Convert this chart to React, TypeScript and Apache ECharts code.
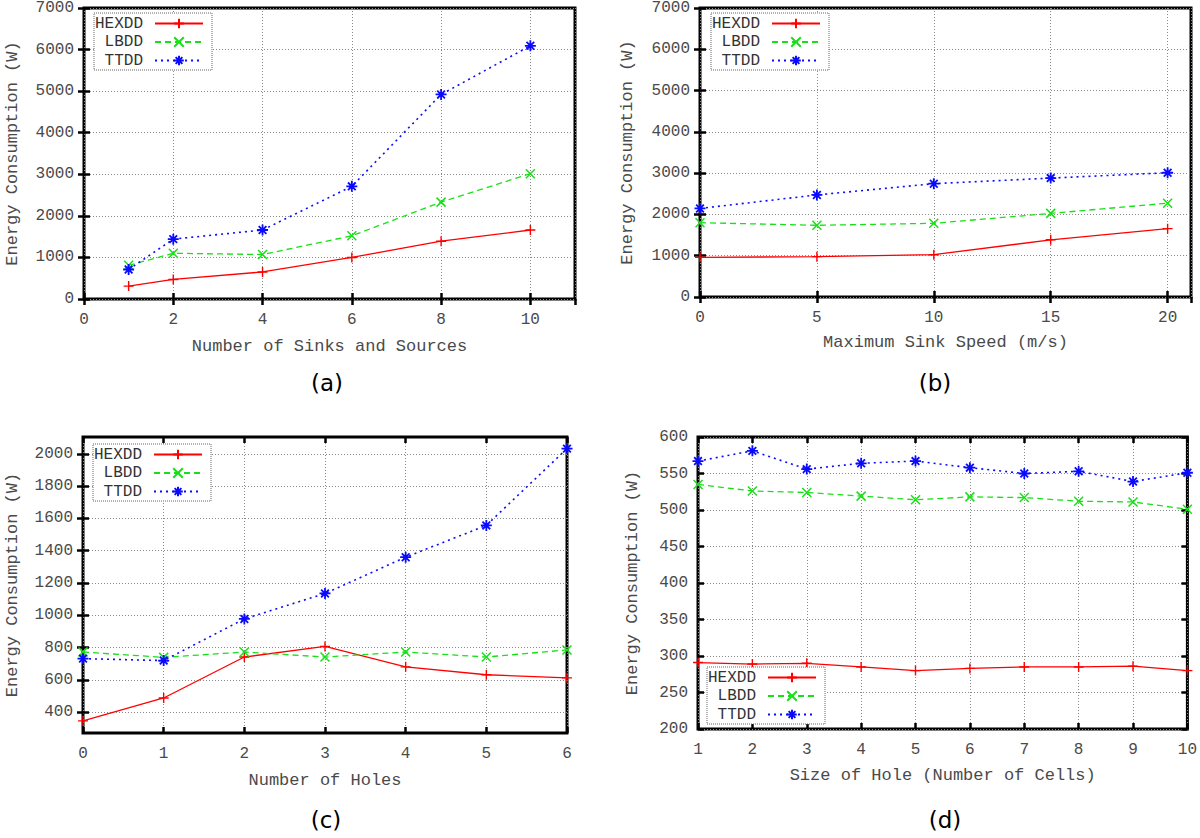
import React, { useEffect, useRef } from 'react';
import * as echarts from 'echarts';

// ---------- data ----------
const seriesNames = ['HEXDD', 'LBDD', 'TTDD'];

// (a) Number of Sinks and Sources
const xA = [1, 2, 4, 6, 8, 10];
const hexA = [310, 470, 650, 1000, 1390, 1660];
const lbA = [810, 1100, 1070, 1520, 2330, 3015];
const ttA = [710, 1440, 1660, 2710, 4920, 6090];

// (b) Maximum Sink Speed (m/s)
const xB = [0, 5, 10, 15, 20];
const hexB = [960, 977, 1025, 1385, 1656];
const lbB = [1800, 1737, 1785, 2025, 2273];
const ttB = [2145, 2472, 2745, 2880, 3010];

// (c) Number of Holes
const xC = [0, 1, 2, 3, 4, 5, 6];
const hexC = [345, 487, 741, 807, 680, 631, 612];
const lbC = [772, 739, 772, 741, 772, 741, 785];
const ttC = [731, 719, 977, 1135, 1360, 1557, 2033];
const yTicksC = [400, 600, 800, 1000, 1200, 1400, 1600, 1800, 2000];

// (d) Size of Hole (Number of Cells)
const xD = [1, 2, 3, 4, 5, 6, 7, 8, 9, 10];
const hexD = [291, 289, 290, 285, 280, 283, 285, 285, 286, 280];
const lbD = [535, 526, 524, 519, 514, 518, 517, 512, 511, 501];
const ttD = [567, 581, 556, 564, 567, 558, 550, 553, 539, 551];

const panelLabels = ['(a)', '(b)', '(c)', '(d)'];
const xNames = [
  'Number of Sinks and Sources',
  'Maximum Sink Speed (m/s)',
  'Number of Holes',
  'Size of Hole (Number of Cells)',
];
const yName = 'Energy Consumption (W)';

// ---------- styles ----------
const MONO = '"Liberation Mono", "DejaVu Sans Mono", monospace';
const TEXT_COLOR = '#4a4a4a';
const colors = ['#ff0000', '#18e018', '#0a0aff'];
const lineTypes: any[] = ['solid', [6, 4], [2, 4]];
const lineWidths = [1.3, 1.3, 1.6];
const symbols = [
  'path://M0,5L10,5M5,0L5,10',
  'path://M0,0L10,10M10,0L0,10',
  'path://M0,5L10,5M5,0L5,10M1.5,1.5L8.5,8.5M8.5,1.5L1.5,8.5',
];
const symbolSizes = [10, 9, 11];
const symbolWidths = [1.4, 1.5, 1.8];

const layouts = [
  { grid: { left: 84, top: 6, width: 491, height: 293 }, legend: { left: 94, top: 13 }, xGap: 39, yGap: 63, lab: [327, 383] },
  { grid: { left: 700, top: 5, width: 491, height: 292 }, legend: { left: 711, top: 13 }, xGap: 37, yGap: 64, lab: [935, 383] },
  { grid: { left: 83, top: 437, width: 484, height: 296 }, legend: { left: 93, top: 444 }, xGap: 39, yGap: 62, lab: [326, 820] },
  { grid: { left: 698, top: 437, width: 491, height: 292 }, legend: { left: 707, top: 667 }, xGap: 38, yGap: 57, lab: [945, 820] },
];

const axisDefs = [
  { x: { min: 0, max: 11, interval: 2, hideMax: true }, y: { min: 0, max: 7000, interval: 1000 } },
  { x: { min: 0, max: 21, interval: 5, hideMax: true }, y: { min: 0, max: 7000, interval: 1000 } },
  { x: { min: 0, max: 6, interval: 1, hideMax: false }, y: { min: 270, max: 2105, custom: yTicksC } },
  { x: { min: 1, max: 10, interval: 1, hideMax: false }, y: { min: 200, max: 600, interval: 50 } },
];

const panelData = [
  { xs: xA, ys: [hexA, lbA, ttA] },
  { xs: xB, ys: [hexB, lbB, ttB] },
  { xs: xC, ys: [hexC, lbC, ttC] },
  { xs: xD, ys: [hexD, lbD, ttD] },
];

const tickStyle = { show: true, inside: true, length: 6, lineStyle: { color: '#000', width: 2.5 } };
const splitStyle = { show: true, lineStyle: { color: '#8a8a8a', width: 1, type: [1, 2] as any } };
const plain = (v: number) => String(v);

function buildOption() {
  const grid: any[] = [];
  const xAxis: any[] = [];
  const yAxis: any[] = [];
  const series: any[] = [];
  const legend: any[] = [];
  const graphic: any[] = [];

  layouts.forEach((L, i) => {
    const ad = axisDefs[i];
    grid.push({
      ...L.grid,
      show: true,
      borderColor: '#000',
      borderWidth: 3,
      backgroundColor: 'transparent',
      containLabel: false,
    });
    const xBase = {
      type: 'value',
      gridIndex: i,
      min: ad.x.min,
      max: ad.x.max,
      interval: ad.x.interval,
      axisLine: { show: false },
    };
    xAxis.push({
      ...xBase,
      position: 'bottom',
      name: xNames[i],
      nameLocation: 'middle',
      nameGap: L.xGap,
      nameTextStyle: { fontFamily: MONO, fontSize: 17, color: TEXT_COLOR },
      axisTick: tickStyle,
      axisLabel: {
        show: true,
        margin: 13,
        fontFamily: MONO,
        fontSize: 16,
        color: TEXT_COLOR,
        formatter: plain,
        showMaxLabel: !ad.x.hideMax,
        showMinLabel: true,
      },
      splitLine: splitStyle,
    });
    xAxis.push({
      ...xBase,
      position: 'top',
      axisTick: tickStyle,
      axisLabel: { show: false },
      splitLine: { show: false },
    });

    const yc: any = ad.y as any;
    const yBase: any = {
      type: 'value',
      gridIndex: i,
      min: yc.min,
      max: yc.max,
      axisLine: { show: false },
    };
    if (yc.interval) yBase.interval = yc.interval;
    const tick: any = { ...tickStyle };
    const lab: any = { show: true, margin: 10, fontFamily: MONO, fontSize: 16, color: TEXT_COLOR, formatter: plain };
    const split: any = { ...splitStyle };
    if (yc.custom) {
      tick.customValues = yc.custom;
      lab.customValues = yc.custom;
      split.customValues = yc.custom;
    }
    yAxis.push({
      ...yBase,
      position: 'left',
      name: yName,
      nameLocation: 'middle',
      nameGap: L.yGap,
      nameRotate: 90,
      nameTextStyle: { fontFamily: MONO, fontSize: 17, color: TEXT_COLOR },
      axisTick: tick,
      axisLabel: lab,
      splitLine: split,
    });
    yAxis.push({
      ...yBase,
      position: 'right',
      axisTick: tick,
      axisLabel: { show: false, customValues: yc.custom },
      splitLine: { show: false },
    });

    const pd = panelData[i];
    seriesNames.forEach((nm, k) => {
      series.push({
        name: nm,
        type: 'line',
        xAxisIndex: 2 * i,
        yAxisIndex: 2 * i,
        data: pd.xs.map((x, j) => [x, pd.ys[k][j]]),
        symbol: symbols[k],
        symbolSize: symbolSizes[k],
        showAllSymbol: true,
        lineStyle: { color: colors[k], width: lineWidths[k], type: lineTypes[k] },
        itemStyle: { color: colors[k], borderColor: colors[k], borderWidth: symbolWidths[k] },
        z: 3 + k,
        clip: true,
      });
    });

    legend.push({
      data: seriesNames,
      orient: 'vertical',
      align: 'right',
      left: L.legend.left,
      top: L.legend.top,
      padding: [2, 8, 1, 1],
      itemGap: 1.5,
      itemWidth: 48,
      itemHeight: 12,
      selectedMode: false,
      backgroundColor: '#fff',
      borderColor: '#666',
      borderWidth: 1,
      borderType: 'dotted',
      textStyle: { fontFamily: MONO, fontSize: 16, color: '#333', padding: [0, 7, 0, 0], lineHeight: 17 },
      z: 10,
    });

    graphic.push({
      type: 'text',
      x: L.lab[0],
      y: L.lab[1],
      style: {
        text: panelLabels[i],
        fontFamily: '"DejaVu Sans", sans-serif',
        fontSize: 23,
        fill: '#000',
        align: 'center',
        verticalAlign: 'middle',
      },
    });
  });

  return {
    animation: false,
    backgroundColor: '#fff',
    grid,
    xAxis,
    yAxis,
    series,
    legend,
    graphic,
  };
}

export default function App() {
  const ref = useRef<HTMLDivElement>(null);
  useEffect(() => {
    const chart = echarts.init(ref.current!, null, { renderer: 'svg' });
    chart.setOption(buildOption() as any);
    return () => chart.dispose();
  }, []);
  return (
    <div
      ref={ref}
      style={{ position: 'absolute', left: 0, top: 0, width: 1200, height: 838, background: '#fff' }}
    />
  );
}
